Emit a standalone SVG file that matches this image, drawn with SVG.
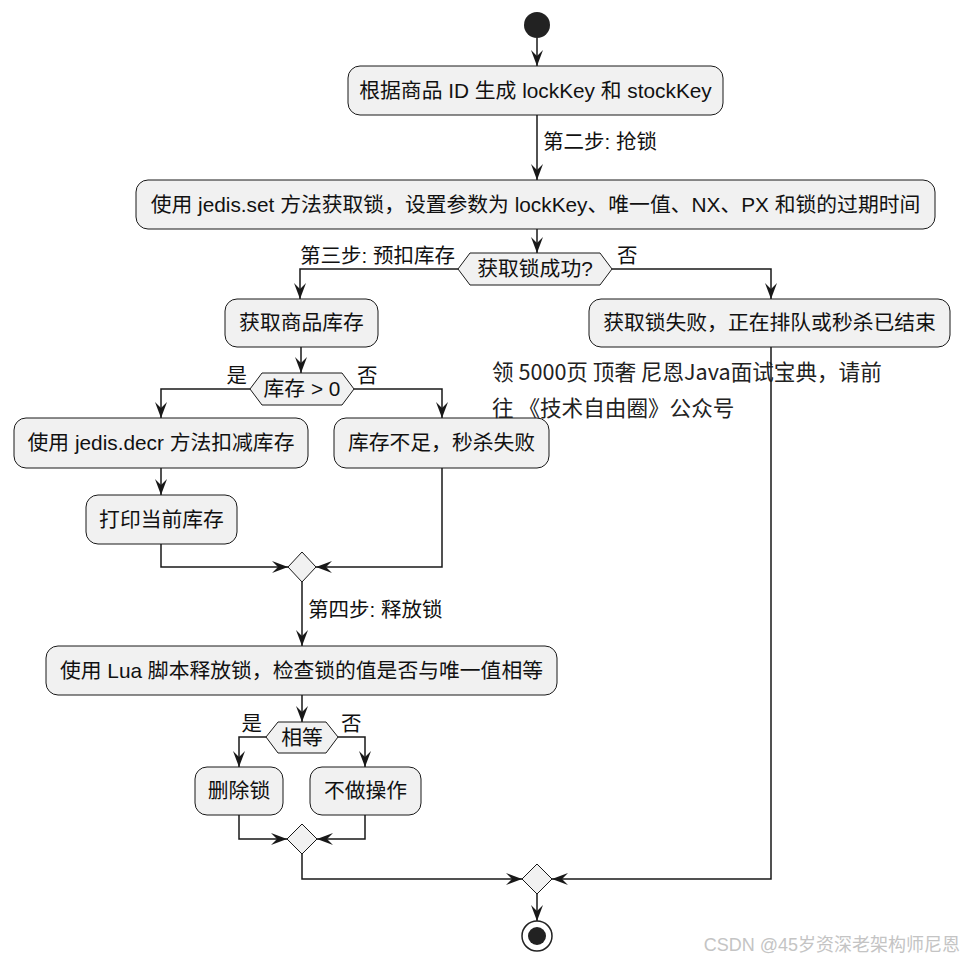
<svg xmlns="http://www.w3.org/2000/svg" width="964" height="962" viewBox="0 0 964 962">
<defs>
<style>
.box{fill:#F1F1F1;stroke:#181818;stroke-width:1}
.t{font-family:"Liberation Sans","Noto Sans CJK SC",sans-serif;font-size:20.8px;fill:#111;text-anchor:middle}
.l{font-family:"Liberation Sans","Noto Sans CJK SC",sans-serif;font-size:20.5px;fill:#111}
.e{text-anchor:end}
.c{fill:none;stroke:#181818;stroke-width:1.5}
.ov{font-family:"Noto Sans CJK SC",sans-serif;font-size:21.6px;fill:#222}
.wm{font-family:"Liberation Sans","Noto Sans CJK SC",sans-serif;font-size:18px;fill:#c4c4c4}
</style>
<marker id="ah" viewBox="0 0 16 12" refX="16" refY="6" markerWidth="16" markerHeight="12" markerUnits="userSpaceOnUse" orient="auto">
<path d="M0,0 L16,6 L0,12 L6,6 Z" fill="#181818"/>
</marker>
</defs>
<rect width="964" height="962" fill="#fff"/>

<g id="connectors">
<line class="c" x1="537" y1="38" x2="537" y2="66" marker-end="url(#ah)"/>
<line class="c" x1="537" y1="115" x2="537" y2="180" marker-end="url(#ah)"/>
<text class="l" x="543" y="149">第二步: 抢锁</text>
<line class="c" x1="537" y1="229" x2="537" y2="253" marker-end="url(#ah)"/>
<polyline class="c" points="458,269 300,269 300,299" marker-end="url(#ah)"/>
<text class="l e" x="455" y="263">第三步: 预扣库存</text>
<polyline class="c" points="612,269 771,269 771,299" marker-end="url(#ah)"/>
<text class="l" x="617" y="263">否</text>
<line class="c" x1="301" y1="347" x2="301" y2="373" marker-end="url(#ah)"/>
<polyline class="c" points="250,389 161,389 161,418" marker-end="url(#ah)"/>
<text class="l e" x="247" y="383">是</text>
<polyline class="c" points="354,389 442,389 442,418" marker-end="url(#ah)"/>
<text class="l" x="357" y="383">否</text>
<line class="c" x1="161" y1="468" x2="161" y2="495" marker-end="url(#ah)"/>
<polyline class="c" points="161,544 161,567 288,567" marker-end="url(#ah)"/>
<polyline class="c" points="442,468 442,567 316,567" marker-end="url(#ah)"/>
<line class="c" x1="302" y1="582" x2="302" y2="646" marker-end="url(#ah)"/>
<text class="l" x="308" y="617">第四步: 释放锁</text>
<line class="c" x1="302" y1="695" x2="302" y2="722" marker-end="url(#ah)"/>
<polyline class="c" points="266,737 239,737 239,767" marker-end="url(#ah)"/>
<text class="l e" x="262" y="731">是</text>
<polyline class="c" points="338,737 365,737 365,767" marker-end="url(#ah)"/>
<text class="l" x="341" y="731">否</text>
<polyline class="c" points="239,815 239,839 287,839" marker-end="url(#ah)"/>
<polyline class="c" points="365,815 365,839 317,839" marker-end="url(#ah)"/>
<polyline class="c" points="302,854 302,879 522,879" marker-end="url(#ah)"/>
<polyline class="c" points="771,347 771,879 552,879" marker-end="url(#ah)"/>
<line class="c" x1="537" y1="894" x2="537" y2="921" marker-end="url(#ah)"/>
</g>

<g id="start"><circle cx="537" cy="25" r="13" fill="#222"/></g>

<g id="n1"><rect class="box" x="348" y="66" width="375" height="49" rx="12"/><text class="t" x="535.5" y="97.5">根据商品 ID 生成 lockKey 和 stockKey</text></g>
<g id="n2"><rect class="box" x="136" y="180" width="799" height="49" rx="12"/><text class="t" x="535.5" y="211.5">使用 jedis.set 方法获取锁，设置参数为 lockKey、唯一值、NX、PX 和锁的过期时间</text></g>
<g id="d1"><polygon class="box" points="458,269 470,253 600,253 612,269 600,285 470,285"/><text class="t" x="535" y="276">获取锁成功?</text></g>
<g id="n3"><rect class="box" x="225" y="299" width="153" height="48" rx="12"/><text class="t" x="301.5" y="330">获取商品库存</text></g>
<g id="n4"><rect class="box" x="589" y="299" width="361" height="48" rx="12"/><text class="t" x="769.5" y="330">获取锁失败，正在排队或秒杀已结束</text></g>
<g id="d2"><polygon class="box" points="250,389 262,373 342,373 354,389 342,405 262,405"/><text class="t" x="302" y="396">库存 &gt; 0</text></g>
<g id="n5"><rect class="box" x="14" y="418" width="294" height="50" rx="12"/><text class="t" x="161" y="450">使用 jedis.decr 方法扣减库存</text></g>
<g id="n6"><rect class="box" x="334" y="418" width="215" height="50" rx="12"/><text class="t" x="441.5" y="450">库存不足，秒杀失败</text></g>
<g id="n7"><rect class="box" x="86" y="495" width="151" height="49" rx="12"/><text class="t" x="161.5" y="526.5">打印当前库存</text></g>
<g id="m1"><polygon class="box" points="302,552 316,567 302,582 288,567"/></g>
<g id="n8"><rect class="box" x="46" y="646" width="511" height="49" rx="12"/><text class="t" x="301.5" y="677.5">使用 Lua 脚本释放锁，检查锁的值是否与唯一值相等</text></g>
<g id="d3"><polygon class="box" points="266,737 278,722 326,722 338,737 326,753 278,753"/><text class="t" x="302" y="744.5">相等</text></g>
<g id="n9"><rect class="box" x="195" y="767" width="88" height="48" rx="12"/><text class="t" x="239" y="798">删除锁</text></g>
<g id="n10"><rect class="box" x="310" y="767" width="111" height="48" rx="12"/><text class="t" x="365.5" y="798">不做操作</text></g>
<g id="m2"><polygon class="box" points="302,824 317,839 302,854 287,839"/></g>
<g id="m3"><polygon class="box" points="537,864 552,879 537,894 522,879"/></g>
<g id="end"><circle cx="537" cy="936" r="15" fill="#fff" stroke="#222" stroke-width="1.5"/><circle cx="537" cy="936" r="9" fill="#222"/></g>

<g id="overlay">
<text class="ov" x="492" y="380">领 5000页 顶奢 尼恩Java面试宝典，请前</text>
<text class="ov" x="492" y="416">往 《技术自由圈》公众号</text>
</g>
<text class="wm" x="960" y="951" text-anchor="end">CSDN @45岁资深老架构师尼恩</text>
</svg>
